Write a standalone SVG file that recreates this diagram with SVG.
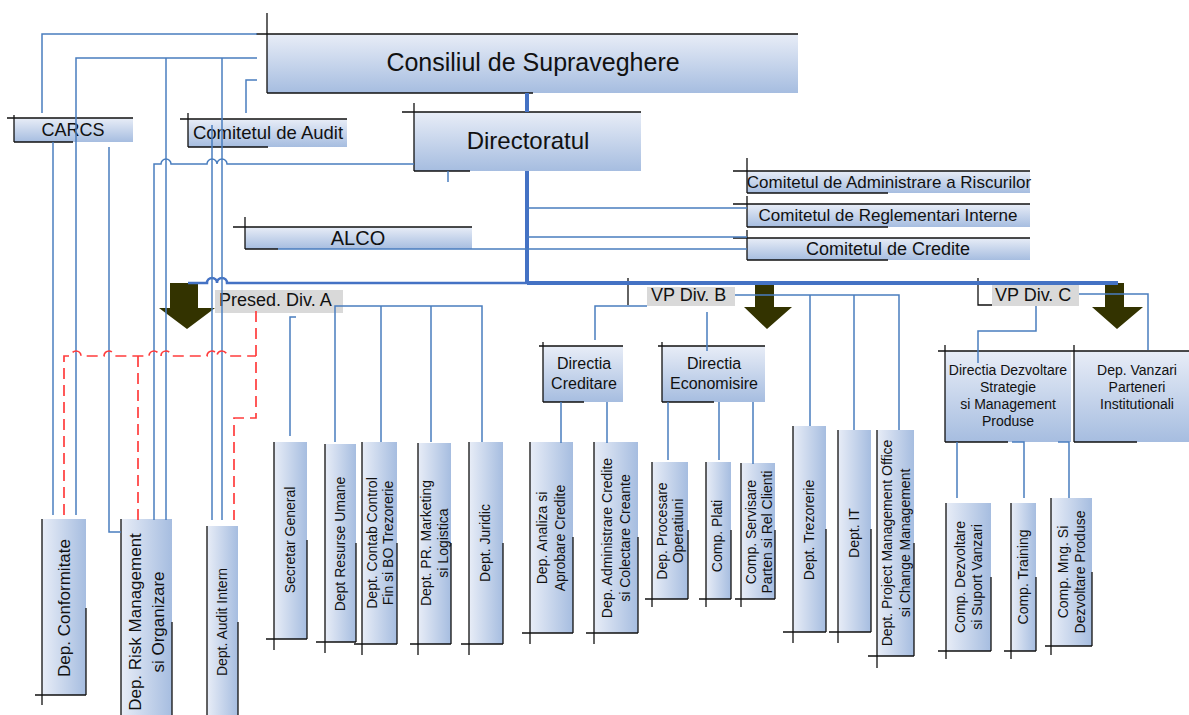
<svg xmlns="http://www.w3.org/2000/svg" width="1189" height="715" viewBox="0 0 1189 715">
<style>
.t{font-family:"Liberation Sans",Arial,sans-serif;fill:#111;dominant-baseline:central}
.hb{fill:url(#gv)}
.vb{fill:url(#gh)}
.k{fill:none;stroke:#111;stroke-width:1.3}
.lbl{fill:#d9d9d9}
.c{fill:none;stroke:#4a7ebf;stroke-width:1.5}
.th{fill:none;stroke:#4472c4;stroke-width:4}
.tm{fill:none;stroke:#4472c4;stroke-width:2.5}
.red{fill:none;stroke:#ff3c3c;stroke-width:1.7;stroke-dasharray:11 6}
.ar{fill:#333300}
</style>
<defs>
<linearGradient id="gv" x1="0" y1="0" x2="0" y2="1"><stop offset="0" stop-color="#e8edf7"/><stop offset="1" stop-color="#a6bde0"/></linearGradient>
<linearGradient id="gh" x1="0" y1="0" x2="1" y2="0"><stop offset="0" stop-color="#e8edf7"/><stop offset="1" stop-color="#a6bde0"/></linearGradient>
</defs>
<rect width="1189" height="715" fill="#fff"/>

<g id="consiliul"><rect class="hb" x="267" y="34" width="531" height="59"/><path class="k" d="M256,34H798M267,13V93M267,93H533"/><text class="t" x="533" y="62" font-size="25" text-anchor="middle">Consiliul de Supraveghere</text></g>
<g id="directoratul"><rect class="hb" x="414" y="112" width="227" height="59"/><path class="k" d="M402,112H641M414,103V171M414,171H470"/><text class="t" x="528" y="140" font-size="24" text-anchor="middle">Directoratul</text></g>
<g id="carcs"><rect class="hb" x="14" y="118" width="119" height="24"/><path class="k" d="M7,118H133M14,115V142M14,142H73"/><text class="t" x="73" y="130" font-size="18" text-anchor="middle">CARCS</text></g>
<g id="audit"><rect class="hb" x="188" y="119" width="159" height="28"/><path class="k" d="M180,119H347M188,113V147M188,147H268"/><text class="t" x="268" y="132" font-size="18.5" text-anchor="middle">Comitetul de Audit</text></g>
<g id="alco"><rect class="hb" x="245" y="227" width="227" height="22"/><path class="k" d="M233,227H472M245,217V249M245,249H278"/><text class="t" x="358" y="238" font-size="20" text-anchor="middle">ALCO</text></g>
<g id="riscuri"><rect class="hb" x="747" y="171" width="283" height="22"/><path class="k" d="M733,171H1030M747,158V193M747,193H888"/><text class="t" x="889" y="182" font-size="17" text-anchor="middle">Comitetul de Administrare a Riscurilor</text></g>
<g id="reglementari"><rect class="hb" x="747" y="204" width="283" height="23"/><path class="k" d="M733,204H1030M747,196V227M747,227H888"/><text class="t" x="888" y="215" font-size="17" text-anchor="middle">Comitetul de Reglementari Interne</text></g>
<g id="credite"><rect class="hb" x="747" y="238" width="283" height="22"/><path class="k" d="M733,238H1030M747,230V260M747,260H888"/><text class="t" x="888" y="249" font-size="18" text-anchor="middle">Comitetul de Credite</text></g>

<g id="preseda"><rect class="lbl" x="215" y="290" width="128" height="23"/><text class="t" x="219" y="300" font-size="18">Presed. Div. A</text></g>
<g id="vpb"><path class="k" d="M623,283H753M628,278V305"/><rect class="lbl" x="647" y="287" width="88" height="19"/><text class="t" x="651" y="295" font-size="18">VP Div. B</text></g>
<g id="vpc"><path class="k" d="M970,283H1092M978,278V305H992"/><rect class="lbl" x="992" y="285" width="87" height="21"/><text class="t" x="995" y="295" font-size="18">VP Div. C</text></g>

<g id="dircred"><rect class="hb" x="543" y="346" width="80" height="56"/><path class="k" d="M539,346H623M543,342V402M543,402H584"/><text class="t" x="584" y="363" font-size="16" text-anchor="middle">Directia</text><text class="t" x="584" y="383" font-size="16" text-anchor="middle">Creditare</text></g>
<g id="direcon"><rect class="hb" x="662" y="346" width="103" height="56"/><path class="k" d="M658,346H765M662,342V402M662,402H714"/><text class="t" x="714" y="363" font-size="16" text-anchor="middle">Directia</text><text class="t" x="714" y="383" font-size="16" text-anchor="middle">Economisire</text></g>
<g id="dirdezv"><rect class="hb" x="945" y="351" width="126" height="91"/><path class="k" d="M938,351H1071M945,345V442M945,442H1008"/><text class="t" font-size="14" text-anchor="middle"><tspan x="1008" y="370">Directia Dezvoltare</tspan><tspan x="1008" y="387">Strategie</tspan><tspan x="1008" y="404">si Management</tspan><tspan x="1008" y="421">Produse</tspan></text></g>
<g id="depvanz"><rect class="hb" x="1074" y="351" width="115" height="91"/><path class="k" d="M1071,351H1189M1074,345V442M1074,442H1137"/><text class="t" font-size="14" text-anchor="middle"><tspan x="1137" y="370">Dep. Vanzari</tspan><tspan x="1137" y="387">Parteneri</tspan><tspan x="1137" y="404">Institutionali</tspan></text></g>

<g id="conformitate"><rect class="vb" x="42" y="519" width="44" height="176"/><path class="k" d="M42,519V705M35,695H86M86,608V695"/><text class="t" font-size="17" text-anchor="middle" transform="translate(64,608) rotate(-90)">Dep. Conformitate</text></g>
<g id="risk"><rect class="vb" x="121" y="519" width="51" height="210"/><path class="k" d="M121,519V715M172,622V715"/><text class="t" font-size="17" text-anchor="middle" transform="translate(146.5,622) rotate(-90)"><tspan x="0" y="-11.5">Dep.  Risk Management</tspan><tspan x="0" y="11.5">si Organizare</tspan></text></g>
<g id="auditintern"><rect class="vb" x="207" y="526" width="31" height="200"/><path class="k" d="M207,526V715M238,622V715"/><text class="t" font-size="14" text-anchor="middle" transform="translate(222,622) rotate(-90)">Dept. Audit Intern</text></g>
<g id="secretar"><rect class="vb" x="274" y="442" width="33" height="197"/><path class="k" d="M274,442V650M266,639H307M307,540V639"/><text class="t" font-size="14" text-anchor="middle" transform="translate(290,540) rotate(-90)">Secretar General</text></g>
<g id="resurse"><rect class="vb" x="325" y="444" width="31" height="198"/><path class="k" d="M325,444V653M316,642H356M356,543V642"/><text class="t" font-size="14" text-anchor="middle" transform="translate(340,544) rotate(-90)">Dept Resurse Umane</text></g>
<g id="contab"><rect class="vb" x="362" y="442" width="35" height="202"/><path class="k" d="M362,442V655M354,644H397M397,543V644"/><text class="t" font-size="14" text-anchor="middle" transform="translate(380,543) rotate(-90)"><tspan x="0" y="-8">Dept. Contab Control</tspan><tspan x="0" y="8">Fin si BO Trezorerie</tspan></text></g>
<g id="pr"><rect class="vb" x="418" y="443" width="33" height="201"/><path class="k" d="M418,443V655M410,644H451M451,543V644"/><text class="t" font-size="14" text-anchor="middle" transform="translate(434.5,543) rotate(-90)"><tspan x="0" y="-8.5">Dept. PR. Marketing</tspan><tspan x="0" y="8.5">si Logistica</tspan></text></g>
<g id="juridic"><rect class="vb" x="469" y="442" width="34" height="202"/><path class="k" d="M469,442V655M461,644H503M503,543V644"/><text class="t" font-size="14" text-anchor="middle" transform="translate(485,543) rotate(-90)">Dept. Juridic</text></g>
<g id="analiza"><rect class="vb" x="530" y="442" width="43" height="191"/><path class="k" d="M530,442V644M522,633H573M573,537V633"/><text class="t" font-size="14" text-anchor="middle" transform="translate(551,538) rotate(-90)"><tspan x="0" y="-9">Dep. Analiza si</tspan><tspan x="0" y="9">Aprobare Credite</tspan></text></g>
<g id="administrare"><rect class="vb" x="594" y="442" width="44" height="191"/><path class="k" d="M594,442V644M586,633H638M638,537V633"/><text class="t" font-size="14" text-anchor="middle" transform="translate(616,538) rotate(-90)"><tspan x="0" y="-9">Dep. Administrare Credite</tspan><tspan x="0" y="9">si Colectare Creante</tspan></text></g>
<g id="procesare"><rect class="vb" x="652" y="462" width="36" height="137"/><path class="k" d="M652,462V607M645,599H688M688,530V599"/><text class="t" font-size="14" text-anchor="middle" transform="translate(670,531) rotate(-90)"><tspan x="0" y="-8">Dep. Procesare</tspan><tspan x="0" y="8">Operatiuni</tspan></text></g>
<g id="plati"><rect class="vb" x="706" y="462" width="25" height="137"/><path class="k" d="M706,462V607M699,599H731M731,530V599"/><text class="t" font-size="14" text-anchor="middle" transform="translate(717,536) rotate(-90)">Comp. Plati</text></g>
<g id="servisare"><rect class="vb" x="741" y="463" width="34" height="136"/><path class="k" d="M741,463V607M735,599H775M775,530V599"/><text class="t" font-size="14" text-anchor="middle" transform="translate(759,532) rotate(-90)"><tspan x="0" y="-8">Comp. Servisare</tspan><tspan x="0" y="8">Parten si Rel Clienti</tspan></text></g>
<g id="trezorerie"><rect class="vb" x="793" y="426" width="33" height="206"/><path class="k" d="M793,426V643M783,632H826M826,529V632"/><text class="t" font-size="14" text-anchor="middle" transform="translate(809,530) rotate(-90)">Dept. Trezorerie</text></g>
<g id="it"><rect class="vb" x="838" y="430" width="33" height="202"/><path class="k" d="M838,430V643M829,632H871M871,529V632"/><text class="t" font-size="14" text-anchor="middle" transform="translate(854,533) rotate(-90)">Dept. IT</text></g>
<g id="pmo"><rect class="vb" x="877" y="430" width="37" height="226"/><path class="k" d="M877,430V668M868,656H914M914,543V656"/><text class="t" font-size="14" text-anchor="middle" transform="translate(896,543) rotate(-90)"><tspan x="0" y="-9">Dept. Project Management Office</tspan><tspan x="0" y="9">si Change Management</tspan></text></g>
<g id="compdezv"><rect class="vb" x="946" y="503" width="45" height="148"/><path class="k" d="M946,503V659M938,651H991M991,577V651"/><text class="t" font-size="14" text-anchor="middle" transform="translate(968.5,577) rotate(-90)"><tspan x="0" y="-8.5">Comp. Dezvoltare</tspan><tspan x="0" y="8.5">si Suport Vanzari</tspan></text></g>
<g id="training"><rect class="vb" x="1011" y="503" width="25" height="148"/><path class="k" d="M1011,503V659M1004,651H1036M1036,577V651"/><text class="t" font-size="14" text-anchor="middle" transform="translate(1023,577) rotate(-90)">Comp. Training</text></g>
<g id="compmng"><rect class="vb" x="1051" y="498" width="41" height="148"/><path class="k" d="M1051,498V655M1045,646H1092M1092,572V646"/><text class="t" font-size="14" text-anchor="middle" transform="translate(1071.5,572) rotate(-90)"><tspan x="0" y="-8.5">Comp. Mng. Si</tspan><tspan x="0" y="8.5">Dezvoltare Produse</tspan></text></g>

<g id="arrows">
<polygon class="ar" points="170,283 198,283 198,308 215,308 187,329 159,308 170,308"/>
<polygon class="ar" points="755,283 774,283 774,307 792,307 767,329 744,307 755,307"/>
<polygon class="ar" points="1105,283 1124,283 1124,307 1143,307 1117,329 1092,307 1105,307"/>
</g>

<g id="connectors">
<path class="th" d="M527,93V112M527,171V283M527,283H1118"/>
<path class="tm" d="M188,283H207a5,5 0 0 1 10,0a5,5 0 0 1 10,0H527"/>
<path class="c" d="M257,34H42V113"/>
<path class="c" d="M257,58H76V515"/>
<path class="c" d="M166,58V520"/>
<path class="c" d="M222,58V520"/>
<path class="c" d="M257,80H246V113"/>
<path class="c" d="M212,125V520"/>
<path class="c" d="M53,142V515"/>
<path class="c" d="M109,147V532H121"/>
<path class="c" d="M154,520V164H161a5,5 0 0 1 10,0H207a5,5 0 0 1 10,0a5,5 0 0 1 10,0H414"/>
<path class="c" d="M448,171V182"/>
<path class="c" d="M527,208H747M527,237H747M278,249H747"/>
<path class="c" d="M335,442V306H482V442M381,306V442M431,306V442"/>
<path class="c" d="M296,317H290V436"/>
<path class="c" d="M647,306H595V340M707,312V351M735,295H899V430M810,295V426M854,295V430"/>
<path class="c" d="M561,402V443M607,402V443"/>
<path class="c" d="M668,402V460M719,402V460M753,402V464"/>
<path class="c" d="M1036,306V331H978V363M1079,294H1148V350"/>
<path class="c" d="M957,442V498M1012,442H1024V498M1058,442H1069V498"/>
<path class="red" d="M64,515V356H71a5,5 0 0 1 10,0H104a5,5 0 0 1 10,0H149a5,5 0 0 1 10,0H161a5,5 0 0 1 10,0H207a5,5 0 0 1 10,0a5,5 0 0 1 10,0H256"/>
<path class="red" d="M138,356V520"/>
<path class="red" d="M256,311V418H234V520"/>
</g>
</svg>
